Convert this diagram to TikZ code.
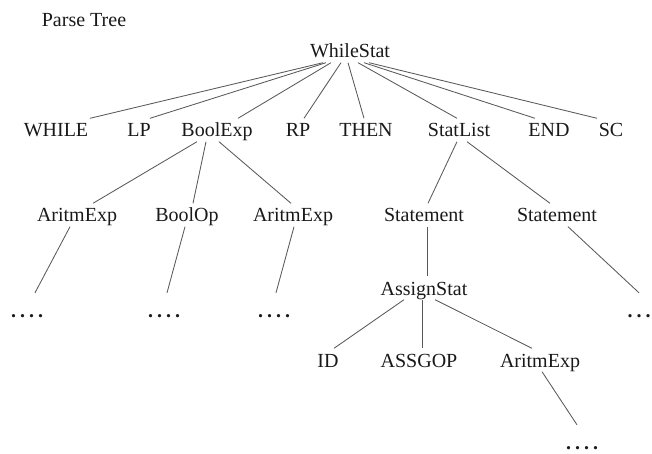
\documentclass[tikz,border=0pt]{standalone}
\usepackage{fontspec}
\setmainfont{Liberation Serif}
\newcommand\fourdots{\bfseries.\kern4pt.\kern4pt.\kern4pt.}
\newcommand\threedots{\bfseries.\kern4pt.\kern4pt.}
\begin{document}
\begin{tikzpicture}[x=1pt,y=1pt,
  lbl/.style={anchor=base, inner sep=1.5pt, text height=17pt, text depth=3pt,
              text=black!90, font=\fontsize{20}{24}\selectfont},
  dotsnode/.style={lbl, text height=22.5pt},
  edge/.style={draw=black!65, line width=0.85pt}]
\useasboundingbox (0,0) rectangle (652,-454);

% title
\node[lbl] (title) at (84,-27) {Parse Tree};

% root
\node[lbl] (ws) at (350,-58) {WhileStat};

% first level
\node[lbl] (nWhile) at (56,-137)  {WHILE};
\node[lbl] (nLp)    at (139,-137) {LP};
\node[lbl] (nBexp)  at (217,-137) {BoolExp};
\node[lbl] (nRp)    at (298,-137) {RP};
\node[lbl] (nThen)  at (366,-137) {THEN};
\node[lbl] (nSl)    at (459,-137) {StatList};
\node[lbl] (nEnd)   at (549,-137) {END};
\node[lbl] (nSc)    at (611,-137) {SC};

% second level
\node[lbl] (ae1) at (77,-222)  {AritmExp};
\node[lbl] (bop) at (187,-222) {BoolOp};
\node[lbl] (ae2) at (293,-222) {AritmExp};
\node[lbl] (st1) at (424,-222) {Statement};
\node[lbl] (st2) at (557,-222) {Statement};

% assignment subtree
\node[lbl] (as)  at (424,-295) {AssignStat};
\node[lbl] (id)  at (328,-367) {ID};
\node[lbl] (ag)  at (419,-367) {ASSGOP};
\node[lbl] (ae3) at (540,-367) {AritmExp};

% elided subtrees
\node[dotsnode] (d1) at (27,-317)  {\fourdots};
\node[dotsnode] (d2) at (164,-317) {\fourdots};
\node[dotsnode] (d3) at (274,-317) {\fourdots};
\node[dotsnode] (d4) at (639,-317) {\threedots};
\node[dotsnode] (d5) at (582,-449) {\fourdots};

% root to first level
\draw[edge] ([xshift=-27pt]ws.south) -- ([xshift=34pt]nWhile.north);
\draw[edge] ([xshift=-24pt]ws.south) -- ([xshift=11pt]nLp.north);
\draw[edge] ([xshift=-19pt]ws.south) -- ([xshift=21pt]nBexp.north);
\draw[edge] ([xshift=-9pt]ws.south)  -- ([xshift=6pt]nRp.north);
\draw[edge] ([xshift=-2pt]ws.south)  -- ([xshift=-2pt]nThen.north);
\draw[edge] ([xshift=8pt]ws.south)   -- ([xshift=-2pt]nSl.north);
\draw[edge] ([xshift=14pt]ws.south)  -- ([xshift=-14pt]nEnd.north);
\draw[edge] ([xshift=19pt]ws.south)  -- ([xshift=-14pt]nSc.north);

% BoolExp children
\draw[edge] ([xshift=-20pt]nBexp.south) -- ([xshift=16pt]ae1.north);
\draw[edge] ([xshift=-11pt]nBexp.south) -- ([xshift=6pt]bop.north);
\draw[edge] ([xshift=2pt]nBexp.south)   -- ([xshift=-2pt]ae2.north);

% StatList children
\draw[edge] ([xshift=-2pt]nSl.south) -- ([xshift=4pt]st1.north);
\draw[edge] ([xshift=8pt]nSl.south)  -- ([xshift=-7pt]st2.north);

% elided branches
\draw[edge] ([xshift=-7pt]ae1.south) -- ([xshift=8pt]d1.north);
\draw[edge] ([xshift=-2pt]bop.south) -- ([xshift=3pt]d2.north);
\draw[edge] ([xshift=1pt]ae2.south)  -- ([xshift=2pt]d3.north);
\draw[edge] ([xshift=11pt]st2.south) -- (d4.north);
\draw[edge] ([xshift=2pt]ae3.south)  -- ([xshift=-5pt]d5.north);

% Statement -> AssignStat and its children
\draw[edge] ([xshift=3pt]st1.south) -- ([xshift=3pt]as.north);
\draw[edge] ([xshift=-20pt]as.south) -- ([xshift=6pt]id.north);
\draw[edge] ([xshift=-2pt]as.south)  -- ([xshift=3pt]ag.north);
\draw[edge] ([xshift=11pt]as.south)  -- ([xshift=-8pt]ae3.north);
\end{tikzpicture}
\end{document}
